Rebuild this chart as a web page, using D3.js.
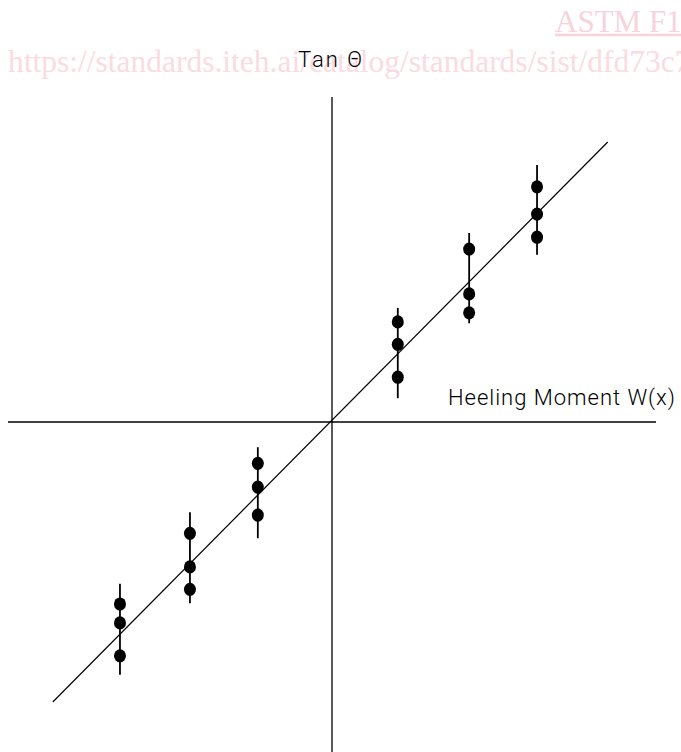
<!DOCTYPE html>
<html>
<head>
<meta charset="utf-8">
<script src="https://cdn.jsdelivr.net/npm/d3@7"></script>
<style>
  body { margin: 0; background: #fff; }
  svg { display: block; }
</style>
</head>
<body>
<script>
// Width and height
var w = 681;
var h = 752;

// group positions along the heeling moment axis
var groupX = [-3.03, -2.03, -1.06, 0.94, 1.96, 2.93];
// three measured values of tan theta per group
var groupPoints = [
  [-2.60, -2.87, -3.34],
  [-1.59, -2.07, -2.39],
  [-0.59, -0.93, -1.33],
  [1.43, 1.11, 0.64],
  [2.47, 1.83, 1.56],
  [3.36, 2.97, 2.64]
];
// error bar ends [high, low]
var groupBars = [
  [-2.31, -3.61],
  [-1.29, -2.59],
  [-0.36, -1.66],
  [1.63, 0.34],
  [2.70, 1.41],
  [3.67, 2.39]
];
// fitted straight line ends
var fitLine = [[-3.99, -4.0], [3.94, 4.0]];

var xLabel = "Heeling Moment W(x)";
var yLabel = "Tan \u0398";

var svg = d3.select("body")
  .append("svg")
  .attr("width", w)
  .attr("height", h);

svg.append("rect").attr("width", w).attr("height", h).attr("fill", "#fff");

// watermark from the scanned page
svg.append("text")
  .attr("x", 8)
  .attr("y", 72)
  .attr("font-family", "Liberation Serif")
  .attr("font-size", 31.5)
  .attr("fill", "#fbdbe2")
  .text("https://standards.iteh.ai/catalog/standards/sist/dfd73c70");
svg.append("text")
  .attr("x", 555)
  .attr("y", 32)
  .attr("font-family", "Liberation Serif")
  .attr("font-size", 31)
  .attr("fill", "#f8d3dc")
  .text("ASTM F1");
svg.append("line")
  .attr("x1", 555).attr("x2", 681)
  .attr("y1", 35).attr("y2", 35)
  .attr("stroke", "#f8d3dc")
  .attr("stroke-width", 2.5);

var x = d3.scaleLinear()
  .domain([-4.63, 4.63])
  .range([8, 656]);

var y = d3.scaleLinear()
  .domain([-4.714, 4.643])
  .range([752, 97]);

// axes through the origin
svg.append("line")
  .attr("x1", x(-4.63)).attr("x2", x(4.63))
  .attr("y1", y(0)).attr("y2", y(0))
  .attr("stroke", "#000").attr("stroke-width", 1.3);
svg.append("line")
  .attr("x1", x(0)).attr("x2", x(0))
  .attr("y1", y(4.643)).attr("y2", y(-4.714))
  .attr("stroke", "#000").attr("stroke-width", 1.3);

// fitted line
svg.append("path")
  .datum(fitLine)
  .attr("d", d3.line().x(function(d) { return x(d[0]); }).y(function(d) { return y(d[1]); }))
  .attr("fill", "none")
  .attr("stroke", "#000")
  .attr("stroke-width", 1.2);

var groups = svg.selectAll("g.grp")
  .data(groupX)
  .enter().append("g")
  .attr("class", "grp");

groups.append("line")
  .attr("x1", function(d) { return x(d); })
  .attr("x2", function(d) { return x(d); })
  .attr("y1", function(d, i) { return y(groupBars[i][0]); })
  .attr("y2", function(d, i) { return y(groupBars[i][1]); })
  .attr("stroke", "#000")
  .attr("stroke-width", 1.8);

groups.each(function(gx, i) {
  d3.select(this).selectAll("ellipse")
    .data(groupPoints[i])
    .enter().append("ellipse")
    .attr("cx", x(gx))
    .attr("cy", function(d) { return y(d); })
    .attr("rx", 6)
    .attr("ry", 6.6)
    .attr("fill", "#000");
});

// axis titles
svg.append("text")
  .attr("x", 448)
  .attr("y", 405)
  .attr("font-family", "Roboto")
  .attr("font-weight", 300)
  .attr("font-size", 22)
  .attr("textLength", 227)
  .attr("fill", "#000")
  .text(xLabel);

svg.append("text")
  .attr("x", 298)
  .attr("y", 67)
  .attr("font-family", "Roboto")
  .attr("font-weight", 300)
  .attr("font-size", 22)
  .attr("textLength", 64)
  .attr("fill", "#000")
  .text(yLabel);
</script>
</body>
</html>
